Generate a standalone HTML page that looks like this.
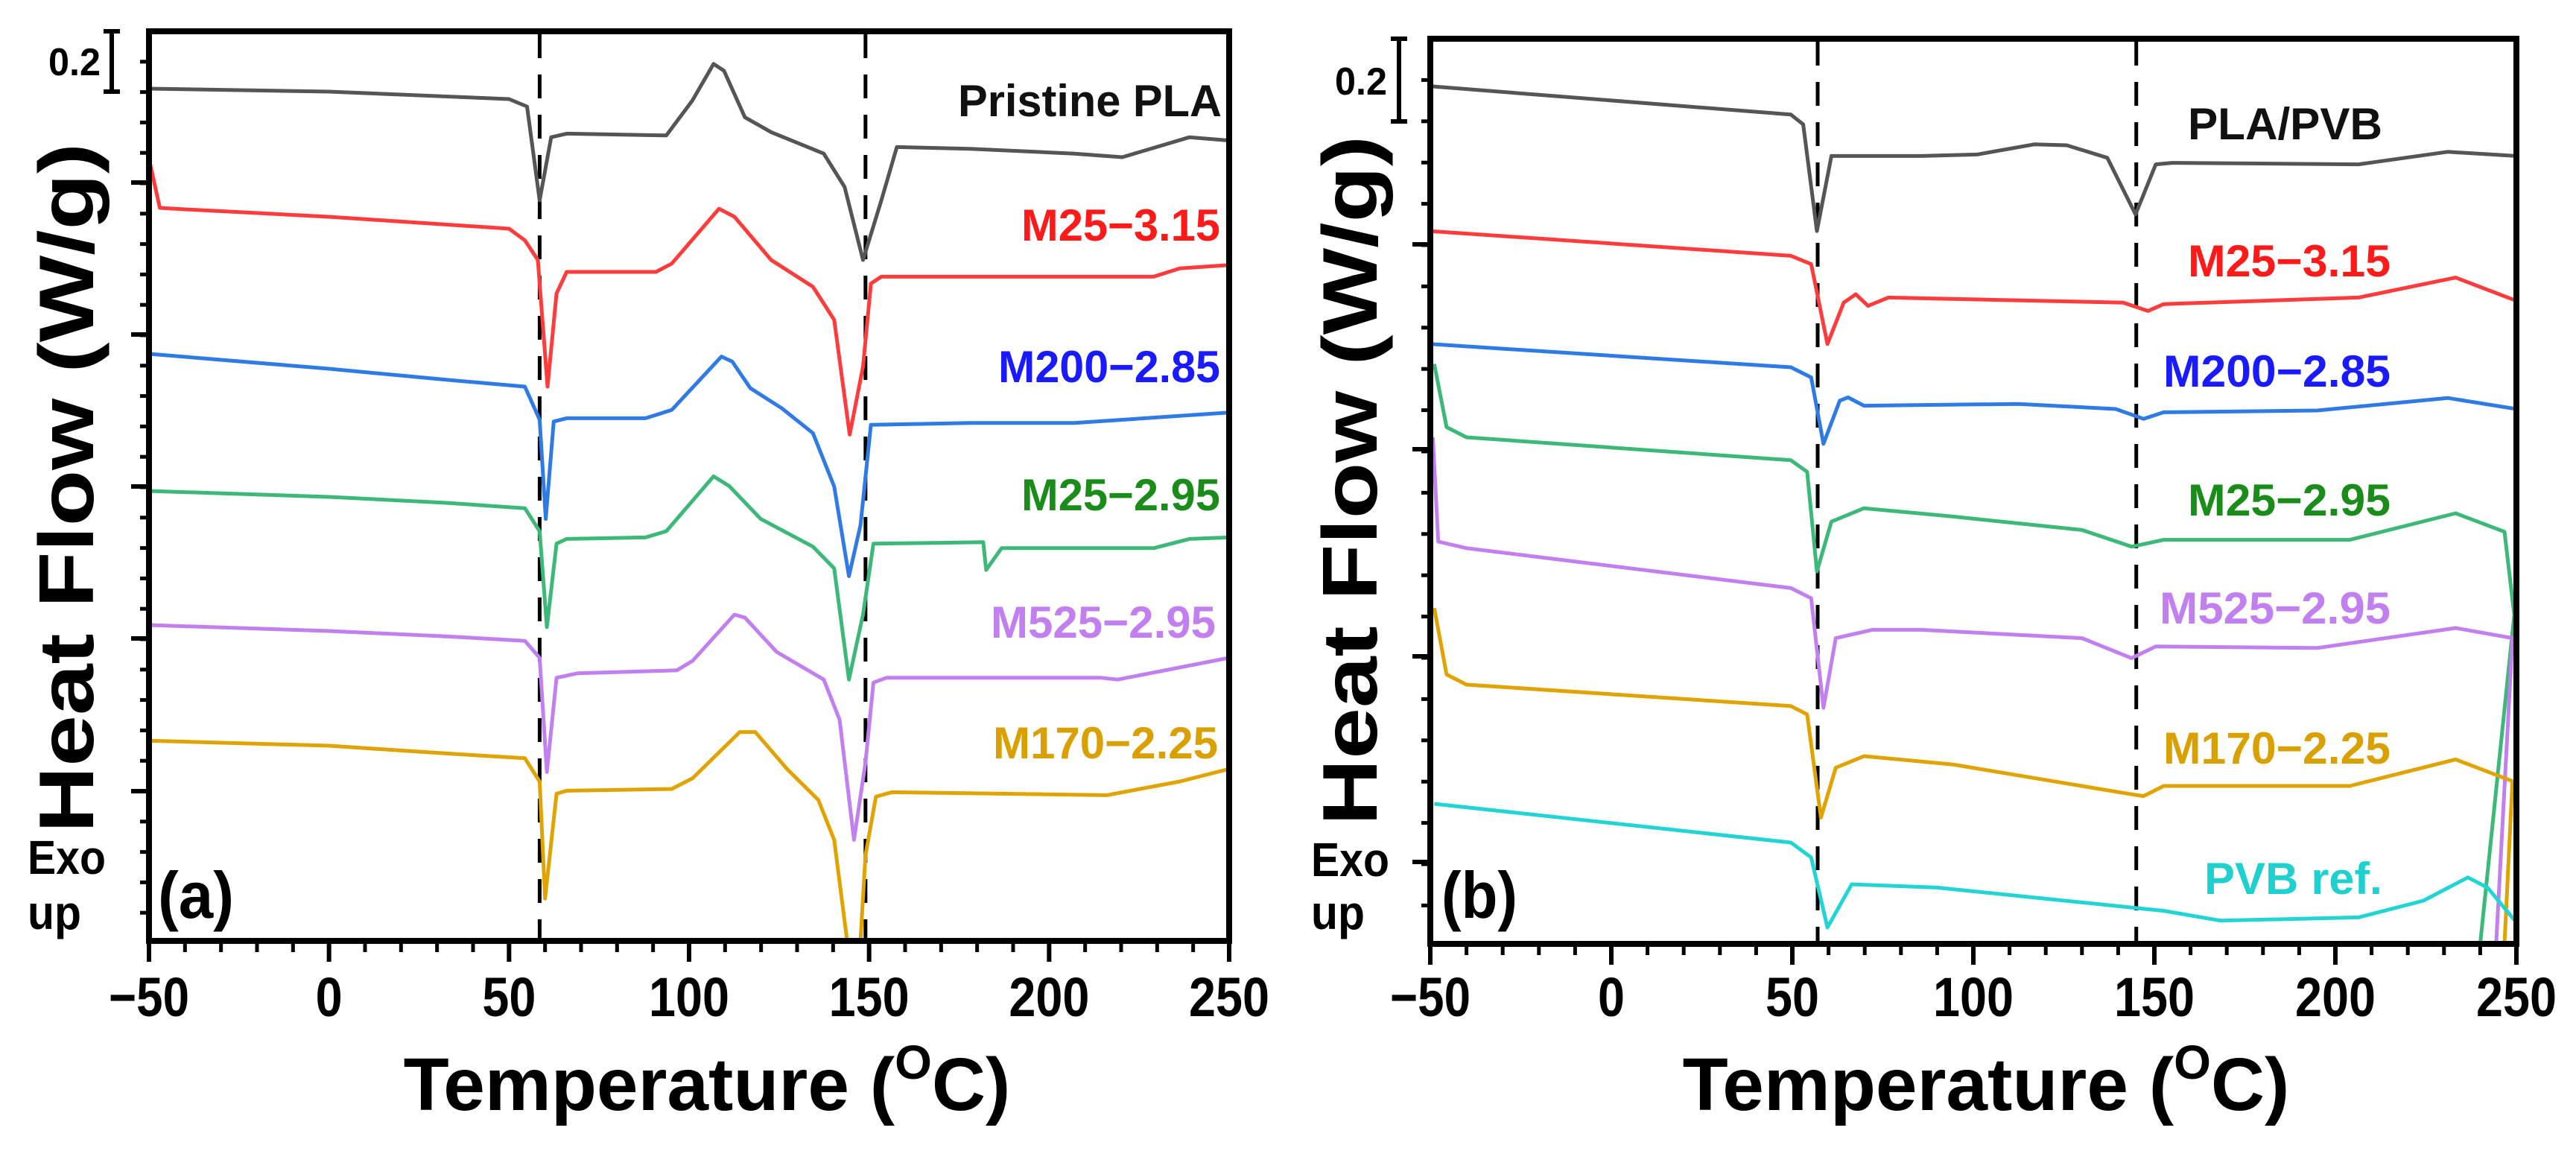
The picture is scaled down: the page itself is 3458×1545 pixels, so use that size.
<!DOCTYPE html>
<html><head><meta charset="utf-8"><style>
html,body{margin:0;padding:0;background:#fff}
svg{display:block}
text{font-family:"Liberation Sans",Arial,sans-serif;font-weight:bold}
</style></head><body>
<svg id="fig" width="3458" height="1545" viewBox="0 0 3458 1545" xmlns="http://www.w3.org/2000/svg">
<rect width="3458" height="1545" fill="#fff"/>
</svg>
<script>
// ---------- Data: [Temperature °C, Heat flow (W/g, offset)] ----------
const xTicks = [-50, 0, 50, 100, 150, 200, 250];
const xTickLabels = ["\u221250", "0", "50", "100", "150", "200", "250"];
const dashesA = [58.5, 149];
const dashesB = [57, 145];

const aPristine = [[-50,2.86],[0,2.85],[50,2.825],[55,2.80],[58.5,2.485],[61.7,2.697],[66,2.709],[93.7,2.703],[100.9,2.82],[106.8,2.943],[109.7,2.92],[115.5,2.764],[122.8,2.714],[137.4,2.642],[143.2,2.53],[148.3,2.285],[153.4,2.485],[157.7,2.664],[178,2.658],[207,2.642],[220.3,2.63],[239,2.697],[250,2.686]];
const aM25_315 = [[-50,2.625],[-47,2.46],[-40,2.455],[0,2.43],[50,2.39],[54.4,2.351],[58,2.285],[60.7,1.86],[63.2,2.173],[66,2.245],[90.8,2.245],[95.2,2.273],[108.3,2.457],[112.6,2.43],[122.8,2.285],[134.4,2.195],[140.3,2.084],[144.6,1.699],[148.3,1.927],[150.5,2.206],[153.4,2.229],[229,2.229],[236.3,2.257],[250,2.268]];
const aM200_285 = [[-50,1.97],[0,1.92],[32.6,1.883],[54.4,1.86],[58.5,1.749],[60.2,1.416],[62.4,1.743],[66,1.754],[87.9,1.754],[95.2,1.782],[109,1.961],[112,1.944],[117,1.855],[125.7,1.788],[134.4,1.704],[140.3,1.525],[144.4,1.224],[147.6,1.395],[150.5,1.732],[178,1.738],[207,1.738],[250,1.773]];
const aM25_295 = [[-50,1.51],[0,1.49],[32.6,1.47],[54.4,1.452],[58.5,1.375],[60.5,1.053],[63.2,1.333],[66,1.349],[87.9,1.354],[93.7,1.375],[106.8,1.559],[111.2,1.526],[119.9,1.416],[134.4,1.323],[140.3,1.25],[144.4,0.877],[148.3,1.095],[151.2,1.333],[181.7,1.338],[182.5,1.245],[186.8,1.318],[229,1.318],[239,1.349],[250,1.354]];
const aM525_295 = [[-50,1.06],[0,1.04],[32.6,1.022],[54.4,1.007],[58.5,0.95],[60.5,0.567],[63.2,0.883],[69,0.898],[96.6,0.908],[101,0.94],[112.6,1.095],[115.5,1.085],[124.3,0.97],[137.4,0.877],[141.8,0.743],[145.8,0.339],[149,0.598],[151.2,0.867],[154.8,0.883],[214.5,0.883],[219,0.877],[250,0.95]];
const aM170_225 = [[-50,0.672],[0,0.655],[32.6,0.629],[54.4,0.613],[58.5,0.535],[60,0.142],[63.2,0.494],[66,0.504],[95.2,0.51],[101,0.546],[114.1,0.701],[118.4,0.701],[127.2,0.577],[135.9,0.473],[140.3,0.339],[143.9,0.0],[147.6,0.0],[149,0.287],[151.9,0.484],[156.3,0.499],[216,0.489],[236.3,0.535],[250,0.577]];

const bPlaPvb = [[-50,2.878],[49.6,2.783],[53,2.75],[56.8,2.392],[60.8,2.644],[85.5,2.644],[101,2.649],[116.8,2.683],[125.8,2.68],[137,2.638],[144.8,2.448],[150.4,2.616],[154.9,2.621],[206.4,2.616],[231,2.658],[250,2.644]];
const bM25_315 = [[-50,2.392],[49.6,2.309],[55.2,2.281],[59.7,2.013],[64.2,2.152],[67.5,2.18],[70.9,2.141],[76.5,2.169],[141.4,2.152],[148.2,2.124],[152.6,2.147],[206.4,2.169],[233.2,2.236],[250,2.158]];
const bM200_285 = [[-50,2.013],[49.6,1.935],[55.2,1.901],[58.6,1.678],[63.1,1.823],[65.4,1.834],[69.8,1.806],[112.4,1.812],[139.3,1.795],[147,1.762],[152.6,1.784],[195,1.79],[231,1.832],[250,1.795]];
const bM25_295 = [[-48.9,1.946],[-45.5,1.734],[-40,1.70],[49.6,1.623],[54.1,1.584],[56.8,1.25],[60.8,1.417],[69.8,1.462],[94.4,1.434],[130,1.389],[143.7,1.333],[152.6,1.356],[204,1.356],[233.2,1.445],[246.7,1.383],[249.4,1.104],[240,0.0]];
const bM525_295 = [[-49.3,1.70],[-47.8,1.35],[-40,1.328],[49.6,1.194],[55.2,1.16],[58.6,0.792],[62,1.026],[72.1,1.054],[85.5,1.054],[130,1.026],[143.7,0.959],[150.4,0.998],[195,0.993],[233.2,1.06],[248.9,1.026],[244.4,0.0]];
const bM170_225 = [[-48.9,1.127],[-45.5,0.904],[-40,0.87],[49.6,0.798],[54.1,0.77],[57.9,0.424],[62,0.591],[69.8,0.63],[94.4,0.602],[143.7,0.502],[147,0.496],[152.6,0.53],[204,0.53],[233.2,0.619],[248.9,0.546],[246.7,0.0]];
const bPvbRef = [[-48.9,0.47],[49.6,0.34],[55.2,0.29],[59.7,0.055],[66.4,0.20],[89.9,0.189],[152.6,0.111],[168.3,0.078],[206.4,0.089],[224.3,0.145],[236.6,0.223],[242,0.189],[250,0.072]];

// ---------- Layout ----------
const NS = "http://www.w3.org/2000/svg";
const svg = document.getElementById('fig');
function el(tag, attrs, parent, txt){ const e=document.createElementNS(NS,tag); for(const k in attrs) e.setAttribute(k,attrs[k]); if(txt!==undefined) e.textContent=txt; (parent||svg).appendChild(e); return e; }

const panels = [
 {id:'a', x0:200, x1:1650, top:42, bot:1263, dashes:dashesA, yMaj:[245,449,653,857,1062], minStep:40.8,
  series:[
   {name:'pristine-pla',d:aPristine,c:'#555555',lab:'Pristine PLA',lc:'#111111',lx:1640,ly:156,lw:354},
   {name:'m25-3-15',d:aM25_315,c:'#ff3b3b',lab:'M25\u22123.15',lc:'#ff1a1a',lx:1638,ly:323,lw:267},
   {name:'m200-2-85',d:aM200_285,c:'#2f7be6',lab:'M200\u22122.85',lc:'#1a1aff',lx:1638,ly:513,lw:298},
   {name:'m25-2-95',d:aM25_295,c:'#3cb878',lab:'M25\u22122.95',lc:'#1a8c1a',lx:1638,ly:685,lw:267},
   {name:'m525-2-95',d:aM525_295,c:'#c27ff0',lab:'M525\u22122.95',lc:'#c27ff0',lx:1632,ly:856,lw:302},
   {name:'m170-2-25',d:aM170_225,c:'#e0a300',lab:'M170\u22122.25',lc:'#d9a000',lx:1635,ly:1018,lw:302}],
  bar:{x:150,y0:42,y1:123,tx:135,ty:99}, ylab:{x:125,y:655}, exo:{x:37,y1:1173,y2:1247}, tag:{x:212,y:1232,t:'(a)'}, title:{x:949}},
 {id:'b', x0:1920, x1:3378, top:52, bot:1267, dashes:dashesB, yMaj:[328,603,881,1157], minStep:55.4,
  series:[
   {name:'pla-pvb',d:bPlaPvb,c:'#555555',lab:'PLA/PVB',lc:'#111111',lx:3198,ly:187,lw:261},
   {name:'m25-3-15',d:bM25_315,c:'#ff3b3b',lab:'M25\u22123.15',lc:'#ff1a1a',lx:3209,ly:371,lw:272},
   {name:'m200-2-85',d:bM200_285,c:'#2f7be6',lab:'M200\u22122.85',lc:'#1a1aff',lx:3209,ly:519,lw:305},
   {name:'m25-2-95',d:bM25_295,c:'#3cb878',lab:'M25\u22122.95',lc:'#1a8c1a',lx:3209,ly:692,lw:272},
   {name:'m525-2-95',d:bM525_295,c:'#c27ff0',lab:'M525\u22122.95',lc:'#c27ff0',lx:3209,ly:837,lw:310},
   {name:'m170-2-25',d:bM170_225,c:'#e0a300',lab:'M170\u22122.25',lc:'#d9a000',lx:3209,ly:1025,lw:305},
   {name:'pvb-ref',d:bPvbRef,c:'#22d4d4',lab:'PVB ref.',lc:'#1fd0d0',lx:3198,ly:1200,lw:239}],
  bar:{x:1878,y0:52,y1:163,tx:1862,ty:125}, ylab:{x:1848,y:645}, exo:{x:1760,y1:1176,y2:1247}, tag:{x:1935,y:1232,t:'(b)'}, title:{x:2666}}
];

panels.forEach(p=>{
  const g = el('g',{});
  
  
  const xs = T => p.x0 + (T+50)*(p.x1-p.x0)/300;
  const ys = v => p.bot - v*400;
  const cp = el('clipPath',{id:'clip'+p.id},g);
  el('rect',{x:p.x0,y:p.top,width:p.x1-p.x0,height:p.bot-p.top},cp);
  p.dashes.forEach((T,i)=>{
    const l = el('line',{x1:xs(T),x2:xs(T),y1:p.top+4,y2:p.bot-4,stroke:'#000','stroke-width':5,'stroke-dasharray':'32 22'},g);
    
    
  });
  p.series.forEach(s=>{
    const pts = s.d.map(q=>xs(q[0]).toFixed(1)+','+ys(q[1]).toFixed(1)).join(' ');
    const pl = el('polyline',{points:pts,fill:'none',stroke:s.c,'stroke-width':5,'stroke-linejoin':'round','clip-path':'url(#clip'+p.id+')'},g);
    
    
    const t = el('text',{x:s.lx,y:s.ly,'text-anchor':'end','font-size':60,fill:s.lc,textLength:s.lw,lengthAdjust:'spacingAndGlyphs'},g,s.lab);
    
    
  });
  const fr = el('rect',{x:p.x0,y:p.top,width:p.x1-p.x0,height:p.bot-p.top,fill:'none',stroke:'#000','stroke-width':8},g);
  
  
  for(let T=-50;T<=250;T+=10){
    const maj = (T%50===0);
    el('line',{x1:xs(T),x2:xs(T),y1:p.bot,y2:p.bot+(maj?28:15),stroke:'#000','stroke-width':maj?6:5},g);
  }
  xTicks.forEach((T,i)=>{
    const t = el('text',{x:xs(T),y:1364,'text-anchor':'middle','font-size':74,fill:'#000',textLength:(xTickLabels[i].length*36),lengthAdjust:'spacingAndGlyphs'},g,xTickLabels[i]);
    
    
  });
  for(let y=p.top+p.minStep; y<p.bot-5; y+=p.minStep){
    el('line',{x1:p.x0-12,x2:p.x0,y1:y,y2:y,stroke:'#000','stroke-width':5},g);
  }
  p.yMaj.forEach(y=>el('line',{x1:p.x0-24,x2:p.x0,y1:y,y2:y,stroke:'#000','stroke-width':6},g));
  const b=p.bar;
  const sb = el('path',{d:`M${b.x},${b.y0}V${b.y1}M${b.x-11},${b.y0}H${b.x+11}M${b.x-11},${b.y1}H${b.x+11}`,stroke:'#000','stroke-width':6,fill:'none'},g);
  
  
  const st = el('text',{x:b.tx,y:b.ty+2,'text-anchor':'end','font-size':52,fill:'#000',textLength:70,lengthAdjust:'spacingAndGlyphs'},g,'0.2');
  
  
  const yt = el('text',{x:0,y:0,transform:`translate(${p.ylab.x},${p.ylab.y}) rotate(-90)`,'text-anchor':'middle','font-size':104,fill:'#000',textLength:926,lengthAdjust:'spacingAndGlyphs'},g,'Heat Flow (W/g)');
  
  
  const e1 = el('text',{x:p.exo.x,y:p.exo.y1,'font-size':64,fill:'#000',textLength:105,lengthAdjust:'spacingAndGlyphs'},g,'Exo');
  
  
  const e2 = el('text',{x:p.exo.x,y:p.exo.y2,'font-size':64,fill:'#000',textLength:72,lengthAdjust:'spacingAndGlyphs'},g,'up');
  
  
  const tg = el('text',{x:p.tag.x,y:p.tag.y,'font-size':88,fill:'#000',textLength:102,lengthAdjust:'spacingAndGlyphs'},g,p.tag.t);
  
  
  const xt = el('text',{x:p.title.x,y:1490,'text-anchor':'middle','font-size':100,fill:'#000'},g);
  
  
  el('tspan',{},xt,'Temperature (');
  el('tspan',{'font-size':64,dy:-42},xt,'O');
  el('tspan',{dy:42},xt,'C)');
});
</script>
</body></html>
